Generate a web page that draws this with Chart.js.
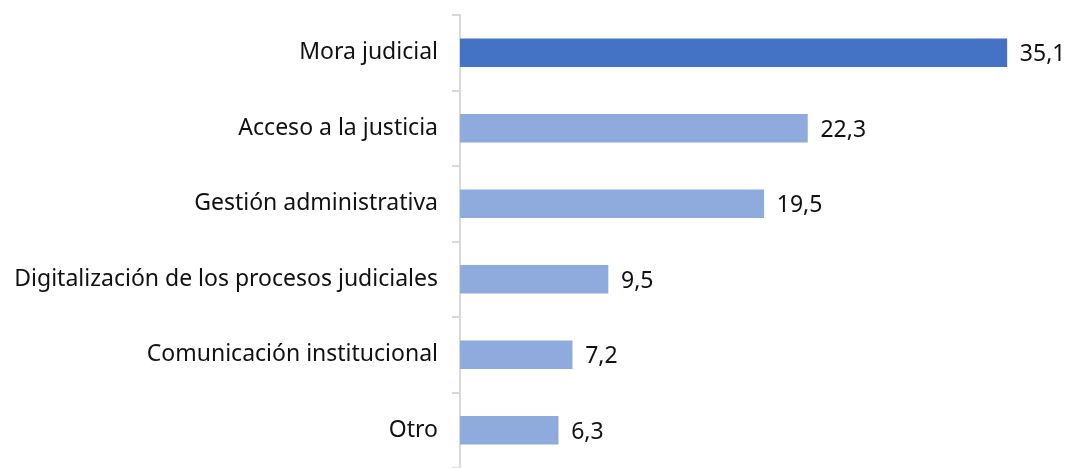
<!DOCTYPE html>
<html>
<head>
<meta charset="utf-8">
<script src="https://cdn.jsdelivr.net/npm/chart.js@4/dist/chart.umd.min.js"></script>
<style>
  html, body { margin: 0; padding: 0; background: #fff; }
  #wrap { width: 1074px; height: 468px; }
</style>
</head>
<body>
<div id="wrap"><canvas id="temasChart" width="1074" height="468"></canvas></div>
<script>
// Temas - porcentaje

const categorias = [
    "Mora judicial",
    "Acceso a la justicia",
    "Gestión administrativa",
    "Digitalización de los procesos judiciales",
    "Comunicación institucional",
    "Otro"
];

const valores = [35.1, 22.3, 19.5, 9.5, 7.2, 6.3];

const colores = ["#4472C4", "#8FAADC", "#8FAADC", "#8FAADC", "#8FAADC", "#8FAADC"];

const fuente = "'Noto Sans', 'Open Sans', sans-serif";

// etiquetas de valor al final de cada barra
const etiquetasValor = {
    id: "etiquetasValor",
    afterDatasetsDraw(chart) {
        const ctx = chart.ctx;
        const meta = chart.getDatasetMeta(0);
        ctx.save();
        ctx.font = "23px " + fuente;
        ctx.fillStyle = "#111";
        ctx.textAlign = "left";
        ctx.textBaseline = "middle";
        meta.data.forEach((bar, i) => {
            const txt = valores[i].toFixed(1).replace(".", ",");
            ctx.fillText(txt, bar.x + 13, bar.y + 2);
        });
        ctx.restore();
    }
};

const temasCanvas = document.getElementById("temasChart");

if(temasCanvas){

new Chart(temasCanvas, {

    type: "bar",

    data: {
        labels: categorias,
        datasets: [{
            data: valores,
            backgroundColor: colores,
            barThickness: 28
        }]
    },

    options: {
        indexAxis: "y",
        responsive: false,
        animation: false,
        layout: {
            padding: { top: 15, right: 22, bottom: 0, left: 0 }
        },
        scales: {
            x: {
                display: false,
                min: 0,
                max: 38
            },
            y: {
                afterFit(scale) {
                    scale.width = 460;
                    scale.paddingTop = 0;
                    scale.paddingBottom = 0;
                },
                grid: {
                    offset: true,
                    drawOnChartArea: false,
                    tickLength: 8,
                    color: "#d9d9d9",
                    lineWidth: 2
                },
                border: { color: "#d9d9d9", width: 2 },
                ticks: {
                    padding: 14,
                    color: "#111",
                    font: { family: fuente, size: 23 }
                }
            }
        },
        plugins: {
            legend: { display: false },
            tooltip: { enabled: false }
        }
    },

    plugins: [etiquetasValor]
});
}
</script>
</body>
</html>
